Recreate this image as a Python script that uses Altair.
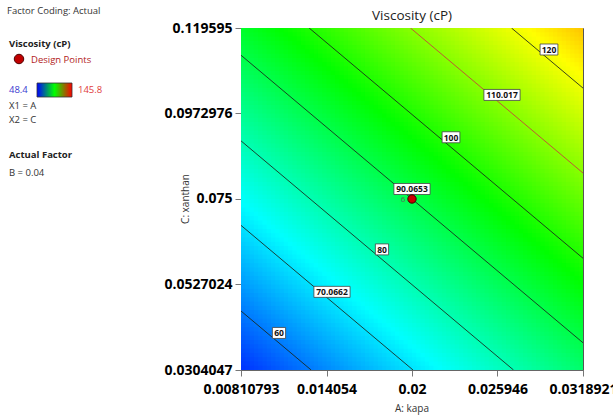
import altair as alt
import numpy as np
import pandas as pd

# ---------------- data ----------------
x_ticks = [0.00810793, 0.014054, 0.02, 0.025946, 0.0318921]
y_ticks = [0.0304047, 0.0527024, 0.075, 0.0972976, 0.119595]

# linear response surface (coded units)
model_center = 90.0653
coef_a = 16.9
coef_c = 20.1

contour_levels = [60, 70.0662, 80, 90.0653, 100, 110.017, 120]
contour_text = ["60", "70.0662", "80", "90.0653", "100", "110.017", "120"]
contour_label_x = [0.01075, 0.014436, 0.017913, 0.0200, 0.022712, 0.026259, 0.029527]
highlight_level = "110.017"

color_domain = [48.4, 72.75, 97.1, 121.45, 145.8]
color_range = ["#0000ff", "#00ffff", "#00ff00", "#ffff00", "#ff0000"]

design_x = [0.02]
design_y = [0.075]
design_run = ["6"]

# ---------------- derived tables ----------------
xmin, xmax = x_ticks[0], x_ticks[-1]
ymin, ymax = y_ticks[0], y_ticks[-1]
xc, yc = (xmin + xmax) / 2, (ymin + ymax) / 2
hx, hy = (xmax - xmin) / 2, (ymax - ymin) / 2


def model(x, y):
    return model_center + coef_a * (x - xc) / hx + coef_c * (y - yc) / hy


def y_at(L, x):
    return yc + hy * (L - model_center - coef_a * (x - xc) / hx) / coef_c


def x_at(L, y):
    return xc + hx * (L - model_center - coef_c * (y - yc) / hy) / coef_a


N = 80
xe = np.linspace(xmin, xmax, N + 1)
ye = np.linspace(ymin, ymax, N + 1)
dx, dy = xe[1] - xe[0], ye[1] - ye[0]
rows = []
for i in range(N):
    for j in range(N):
        xm, ym = (xe[i] + xe[i + 1]) / 2, (ye[j] + ye[j + 1]) / 2
        rows.append({"xa": xe[i], "xb": xe[i + 1] + 0.4 * dx,
                     "ya": ye[j], "yb": ye[j + 1] + 0.4 * dy,
                     "v": model(xm, ym)})
grid = pd.DataFrame(rows)

line_rows = []
for L, t in zip(contour_levels, contour_text):
    x0, x1 = xmin, xmax
    y0, y1 = y_at(L, x0), y_at(L, x1)
    if y0 > ymax:
        x0, y0 = x_at(L, ymax), ymax
    if y1 < ymin:
        x1, y1 = x_at(L, ymin), ymin
    line_rows.append({"level": t, "x": x0, "y": y0, "o": 0})
    line_rows.append({"level": t, "x": x1, "y": y1, "o": 1})
lines = pd.DataFrame(line_rows)

labels = pd.DataFrame({
    "text": contour_text,
    "x": contour_label_x,
    "y": [y_at(L, x) for L, x in zip(contour_levels, contour_label_x)],
})

design = pd.DataFrame({"x": design_x, "y": design_y, "run": design_run})

# ---------------- chart ----------------
FONT = "Open Sans"
xs = alt.Scale(domain=[xmin, xmax], nice=False, zero=False)
ys = alt.Scale(domain=[ymin, ymax], nice=False, zero=False)

heat = alt.Chart(grid).mark_rect(clip=True, strokeWidth=0).encode(
    x=alt.X("xa:Q", scale=xs, title=None,
            axis=alt.Axis(values=x_ticks, format=".6~g", labelFlush=False,
                          labelOverlap=False, grid=False, tickSize=6,
                          labelPadding=6, domainColor="#666", tickColor="#777")),
    x2="xb:Q",
    y=alt.Y("ya:Q", scale=ys, title=None,
            axis=alt.Axis(values=y_ticks, format=".6~g", labelFlush=False,
                          labelOverlap=False, grid=False, tickSize=6,
                          labelPadding=3, domainColor="#666", tickColor="#777")),
    y2="yb:Q",
    color=alt.Color("v:Q", legend=None,
                    scale=alt.Scale(domain=color_domain, range=color_range,
                                    interpolate="rgb")),
)

line_colors = ["#c83c3c" if t == highlight_level else "#1a241a" for t in contour_text]
contours = alt.Chart(lines).mark_line(clip=True, strokeWidth=1, opacity=0.85).encode(
    x=alt.X("x:Q", scale=xs),
    y=alt.Y("y:Q", scale=ys),
    detail="level:N",
    order="o:Q",
    color=alt.Color("level:N", legend=None,
                    scale=alt.Scale(domain=contour_text, range=line_colors)),
)

LOFF = -10
box_layers = []
for t in contour_text:
    hw = 2.0 + 2.3 * len(t)
    box_layers.append(
        alt.Chart(labels[labels.text == t]).mark_rect(
            fill="white", stroke="#444", strokeWidth=0.8,
            xOffset=-hw, x2Offset=hw, yOffset=LOFF - 5.5, y2Offset=LOFF + 5.5,
        ).encode(x=alt.X("x:Q", scale=xs), x2="x:Q",
                 y=alt.Y("y:Q", scale=ys), y2="y:Q")
    )
label_text = alt.Chart(labels).mark_text(
    font=FONT, fontWeight="bold", fontSize=8.5, color="#111", dy=LOFF + 0.5,
    baseline="middle", align="center",
).encode(x=alt.X("x:Q", scale=xs), y=alt.Y("y:Q", scale=ys), text="text:N")

points = alt.Chart(design).mark_point(
    filled=True, shape="circle", size=70, fill="#cc0000", stroke="#3a0000",
    strokeWidth=1, opacity=1,
).encode(x=alt.X("x:Q", scale=xs), y=alt.Y("y:Q", scale=ys))
run_text = alt.Chart(design).mark_text(
    font=FONT, fontSize=8, color="#5a6a5a", dx=-9, dy=1.5, align="center",
    baseline="middle",
).encode(x=alt.X("x:Q", scale=xs), y=alt.Y("y:Q", scale=ys), text="run:N")

one = pd.DataFrame({"a": [0]})


def txt(s, px, py, size=9.5, weight="normal", color="#333", angle=0, align="left"):
    kw = dict(font=FONT, fontSize=size, fontWeight=weight, color=color,
              align=align, baseline="alphabetic", text=s)
    if angle:
        kw["angle"] = angle
    return alt.Chart(one).mark_text(**kw).encode(x=alt.value(px), y=alt.value(py))


side = [
    txt("Factor Coding: Actual", -234, -14),
    txt("Viscosity (cP)", -232, 19, weight="bold", color="#222"),
    txt("Design Points", -210, 35, color="#b22222"),
    txt("48.4", -232, 65, color="#3b3bd1"),
    txt("145.8", -163, 65, color="#e03c3c"),
    txt("X1 = A", -232, 81),
    txt("X2 = C", -232, 95),
    txt("Actual Factor", -232, 130, weight="bold", color="#222"),
    txt("B = 0.04", -232, 148),
    txt("Viscosity (cP)", 171, -8, size=13.5, color="#222", align="center"),
    txt("A: kapa", 171, 384, size=10, color="#333", align="center"),
    txt("C: xanthan", -52, 171, size=10, color="#333", angle=270, align="center"),
]

legend_dot = alt.Chart(one).mark_point(
    filled=True, shape="circle", size=90, fill="#c00000", stroke="#500000",
    strokeWidth=1, opacity=1,
).encode(x=alt.value(-222), y=alt.value(31))

grad = alt.Chart(one).mark_rect(
    stroke="#333", strokeWidth=0.8,
    fill=alt.Gradient(
        gradient="linear", x1=0, x2=1, y1=0, y2=0,
        stops=[alt.GradientStop(color="#0000ff", offset=0),
               alt.GradientStop(color="#00ff00", offset=0.5),
               alt.GradientStop(color="#ff0000", offset=1)],
    ),
).encode(x=alt.value(-204), x2=alt.value(-169), y=alt.value(55), y2=alt.value(69))

chart = alt.layer(
    heat, contours, *box_layers, label_text, points, run_text,
    legend_dot, grad, *side,
).properties(
    width=342, height=342,
    padding={"left": 241, "top": 28, "right": 30, "bottom": 50},
    autosize="none",
).configure_view(
    stroke="#555", strokeWidth=1,
).configure_axis(
    labelFont=FONT, labelFontWeight="bold", labelFontSize=14, labelColor="#000",
)

chart.save("out.html", embed_options={"renderer": "svg", "actions": False})
